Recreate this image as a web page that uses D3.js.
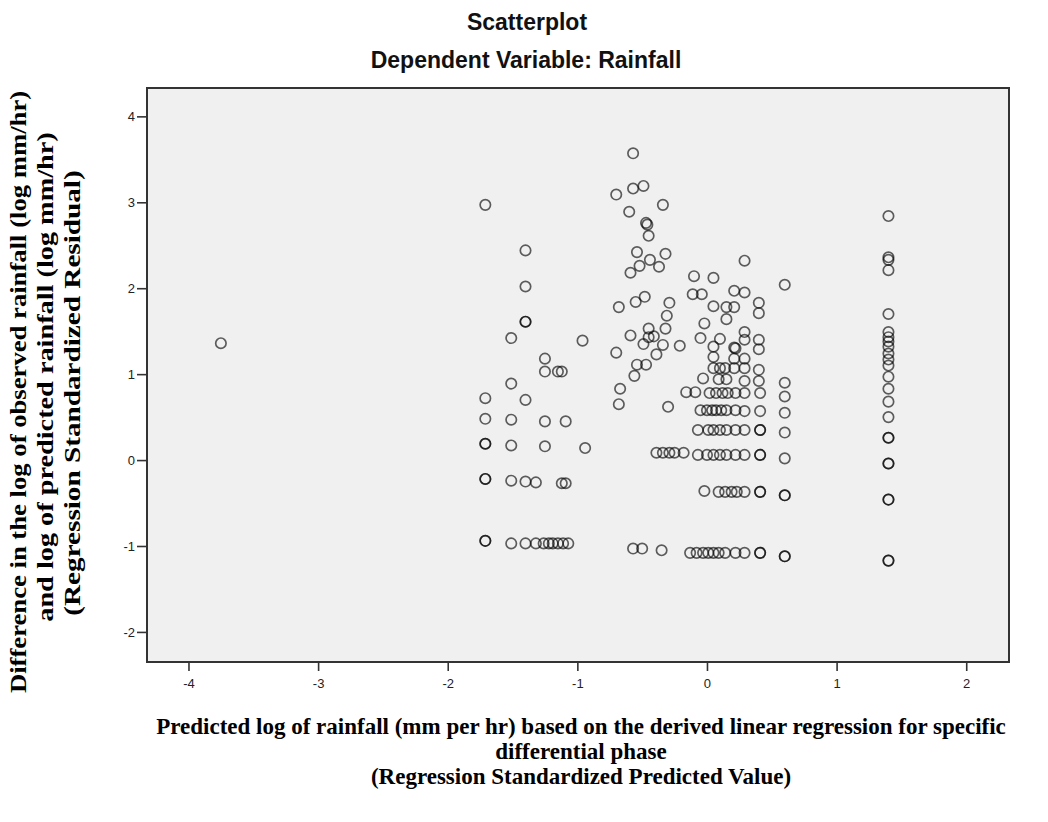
<!DOCTYPE html>
<html>
<head>
<meta charset="utf-8">
<script src="https://cdn.jsdelivr.net/npm/d3@7/dist/d3.min.js"></script>
<style>
  html, body { margin: 0; padding: 0; background: #ffffff; }
  svg { display: block; }
</style>
</head>
<body>
<svg id="chart" width="1048" height="822"></svg>
<script>
// Standardized predicted value (x) vs standardized residual (y), as [x, y] pairs.
const outlierPts = [[-3.75, 1.36]];

// Left band of fitted values
const leftPts = [
  [-1.71, 2.97], [-1.71, 0.72], [-1.71, 0.48], [-1.71, 0.19], [-1.71, 0.19],
  [-1.71, -0.22], [-1.71, -0.22], [-1.71, -0.94], [-1.71, -0.94],
  [-1.51, 1.42], [-1.51, 0.89], [-1.51, 0.47], [-1.51, 0.17], [-1.51, -0.24], [-1.51, -0.97],
  [-1.40, 2.44], [-1.40, 2.02], [-1.40, 1.61], [-1.40, 1.61], [-1.40, 0.70], [-1.40, -0.25], [-1.40, -0.97],
  [-1.32, -0.26], [-1.32, -0.97],
  [-1.25, 1.18], [-1.25, 1.03], [-1.25, 0.45], [-1.25, 0.16], [-1.26, -0.97],
  [-1.22, -0.97], [-1.19, -0.97], [-1.15, 1.03], [-1.15, -0.97],
  [-1.12, 1.03], [-1.12, -0.27], [-1.11, -0.97], [-1.09, 0.45], [-1.09, -0.27], [-1.07, -0.97],
  [-0.96, 1.39], [-0.94, 0.14]
];

// Central cloud
const centrePts = [
  [-0.70, 3.09], [-0.70, 1.25], [-0.68, 1.78], [-0.67, 0.83], [-0.68, 0.65],
  [-0.60, 2.89], [-0.59, 2.18], [-0.59, 1.45], [-0.57, 3.57], [-0.57, 3.16],
  [-0.56, 0.98], [-0.55, 1.84], [-0.54, 2.42], [-0.54, 1.11], [-0.52, 2.26],
  [-0.49, 3.19], [-0.49, 1.35], [-0.48, 1.90], [-0.47, 2.76], [-0.46, 2.74],
  [-0.47, 1.11], [-0.45, 2.61], [-0.45, 1.53], [-0.45, 1.43], [-0.44, 2.33],
  [-0.41, 1.44], [-0.39, 1.23], [-0.37, 2.25], [-0.34, 2.97], [-0.34, 1.34],
  [-0.32, 2.40], [-0.32, 1.53], [-0.31, 1.68], [-0.30, 0.62], [-0.29, 1.83],
  [-0.21, 1.33], [-0.16, 0.79], [-0.11, 1.93], [-0.10, 2.14], [-0.09, 0.79],
  [-0.05, 1.42], [-0.04, 1.93], [-0.03, 0.95], [-0.02, 1.59],
  [-0.39, 0.085], [-0.34, 0.085], [-0.29, 0.085], [-0.25, 0.085], [-0.18, 0.085],
  [-0.57, -1.03], [-0.50, -1.03], [-0.35, -1.05]
];

// Right-hand cluster just above zero
const rightPts = [
  [0.05, 2.12], [0.05, 1.79], [0.05, 1.32], [0.05, 1.20], [0.05, 1.07],
  [0.10, 1.41], [0.10, 1.07], [0.09, 0.94],
  [0.15, 1.78], [0.15, 1.64], [0.14, 1.07], [0.15, 0.94],
  [0.21, 1.97], [0.21, 1.78], [0.21, 1.31], [0.22, 1.30], [0.21, 1.18], [0.21, 1.07],
  [0.29, 2.32], [0.29, 1.95], [0.29, 1.49], [0.29, 1.40], [0.29, 1.18], [0.29, 1.07], [0.29, 0.92],
  [0.40, 1.83], [0.40, 1.71], [0.40, 1.40], [0.40, 1.29], [0.40, 1.05], [0.40, 0.92],
  [0.02, 0.78], [0.07, 0.78], [0.12, 0.78], [0.16, 0.78], [0.22, 0.78], [0.29, 0.78], [0.41, 0.78],
  [-0.05, 0.58], [0.00, 0.58], [0.04, 0.58], [0.07, 0.58], [0.11, 0.58], [0.15, 0.58],
  [0.22, 0.58], [0.29, 0.57], [0.41, 0.57],
  [-0.07, 0.35], [0.01, 0.35], [0.05, 0.35], [0.10, 0.35], [0.15, 0.35], [0.22, 0.35],
  [0.29, 0.35], [0.41, 0.35], [0.41, 0.35],
  [-0.07, 0.06], [0.00, 0.06], [0.05, 0.06], [0.10, 0.06], [0.15, 0.06], [0.22, 0.06],
  [0.29, 0.06], [0.41, 0.06], [0.41, 0.06],
  [-0.02, -0.36], [0.09, -0.37], [0.14, -0.37], [0.19, -0.37], [0.23, -0.37],
  [0.29, -0.37], [0.41, -0.37], [0.41, -0.37],
  [-0.13, -1.08], [-0.08, -1.08], [-0.03, -1.08], [0.01, -1.08], [0.05, -1.08],
  [0.09, -1.08], [0.14, -1.08], [0.22, -1.08], [0.29, -1.08], [0.41, -1.08], [0.41, -1.08]
];

// Two vertical columns of identical fitted values
const columnPts = [
  [0.60, 2.04], [0.60, 0.90], [0.60, 0.74], [0.60, 0.55], [0.60, 0.32], [0.60, 0.02],
  [0.60, -0.41], [0.60, -0.41], [0.60, -1.12], [0.60, -1.12],
  [1.40, 2.84], [1.40, 2.36], [1.40, 2.33], [1.40, 2.21], [1.40, 1.70], [1.40, 1.49],
  [1.40, 1.43], [1.40, 1.38], [1.40, 1.32], [1.40, 1.24], [1.40, 1.17], [1.40, 1.10],
  [1.40, 0.97], [1.40, 0.83], [1.40, 0.68], [1.40, 0.50], [1.40, 0.26], [1.40, 0.26],
  [1.40, -0.04], [1.40, -0.04], [1.40, -0.46], [1.40, -0.46], [1.40, -1.17], [1.40, -1.17]
];

const xTicks = [-4, -3, -2, -1, 0, 1, 2];
const yTicks = [-2, -1, 0, 1, 2, 3, 4];

const titleText = "Scatterplot";
const subtitleText = "Dependent Variable: Rainfall";
const yTitleLines = [
  "Difference in the log of observed rainfall (log mm/hr)",
  "and log of predicted rainfall (log mm/hr)",
  "(Regression Standardized Residual)"
];
const xTitleLines = [
  "Predicted log of rainfall (mm per hr) based on the derived linear regression for specific",
  "differential phase",
  "(Regression Standardized Predicted Value)"
];

const svg = d3.select("#chart");
const plot = { left: 147, right: 1009, top: 88, bottom: 662 };

const x = d3.scaleLinear().domain([-4.32, 2.33]).range([plot.left, plot.right]);
const y = d3.scaleLinear().domain([-2.35, 4.33]).range([plot.bottom, plot.top]);

// Plot background
svg.append("rect")
  .attr("x", plot.left).attr("y", plot.top)
  .attr("width", plot.right - plot.left).attr("height", plot.bottom - plot.top)
  .attr("fill", "#f0f0f0");

// Points
const allPts = [].concat(outlierPts, leftPts, centrePts, rightPts, columnPts);
svg.append("g")
  .selectAll("circle")
  .data(allPts)
  .join("circle")
  .attr("cx", d => x(d[0]))
  .attr("cy", d => y(d[1]))
  .attr("r", 5.2)
  .attr("fill", "none")
  .attr("stroke", "#000")
  .attr("stroke-opacity", 0.62)
  .attr("stroke-width", 1.7);

// Axes (plain hyphen for negative labels)
const tickFont = "Liberation Sans, Arial, sans-serif";
const fmt = d => String(d);
const gx = svg.append("g")
  .attr("transform", `translate(0,${plot.bottom})`)
  .call(d3.axisBottom(x).tickValues(xTicks).tickSize(9).tickPadding(8).tickFormat(fmt));
const gy = svg.append("g")
  .attr("transform", `translate(${plot.left},0)`)
  .call(d3.axisLeft(y).tickValues(yTicks).tickSize(10).tickPadding(2).tickFormat(fmt));

[gx, gy].forEach(g => {
  g.select(".domain").remove();
  g.selectAll(".tick line").attr("stroke", "#333").attr("stroke-width", 1.6);
  g.selectAll(".tick text")
    .attr("fill", "#222")
    .style("font-family", tickFont)
    .style("font-size", "13px");
});

// Frame
svg.append("rect")
  .attr("x", plot.left).attr("y", plot.top)
  .attr("width", plot.right - plot.left).attr("height", plot.bottom - plot.top)
  .attr("fill", "none")
  .attr("stroke", "#333")
  .attr("stroke-width", 2);

// Titles
const titleFont = "Liberation Sans, Arial, sans-serif";
svg.append("text")
  .attr("x", 527).attr("y", 30)
  .attr("text-anchor", "middle")
  .style("font-family", titleFont).style("font-weight", "bold").style("font-size", "23px")
  .attr("fill", "#111")
  .text(titleText);
svg.append("text")
  .attr("x", 526).attr("y", 68)
  .attr("text-anchor", "middle")
  .style("font-family", titleFont).style("font-weight", "bold").style("font-size", "23px")
  .attr("fill", "#111")
  .text(subtitleText);

// Axis titles: vertical lines stretched along their length
const serif = "Liberation Serif, 'Times New Roman', serif";
const yLineLayout = [
  { cx: 26, cy: 392, stretch: 1.16 },
  { cx: 53, cy: 377, stretch: 1.23 },
  { cx: 80, cy: 393, stretch: 1.27 }
];
svg.append("g")
  .selectAll("text")
  .data(yTitleLines)
  .join("text")
  .attr("transform", (d, i) => {
    const l = yLineLayout[i];
    return `translate(${l.cx},${l.cy}) rotate(-90) scale(${l.stretch},1)`;
  })
  .attr("text-anchor", "middle")
  .style("font-family", serif).style("font-weight", "bold").style("font-size", "23px")
  .attr("fill", "#000")
  .text(d => d);

svg.append("g")
  .selectAll("text")
  .data(xTitleLines)
  .join("text")
  .attr("x", 581)
  .attr("y", (d, i) => 734 + i * 25)
  .attr("text-anchor", "middle")
  .style("font-family", serif).style("font-weight", "bold").style("font-size", "23px")
  .attr("fill", "#000")
  .text(d => d);
</script>
</body>
</html>
